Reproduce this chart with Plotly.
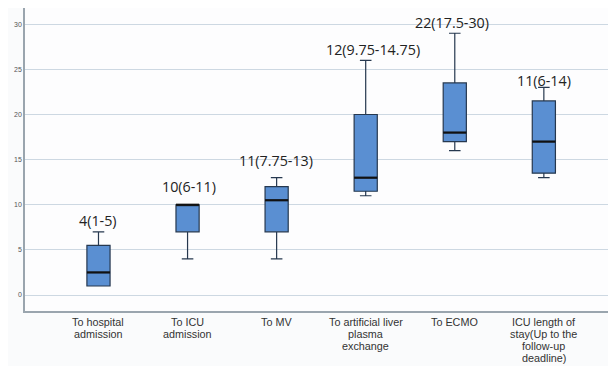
import plotly.graph_objects as go

categories = ["To hospital<br>admission", "To ICU<br>admission", "To MV",
              "To artificial liver<br>plasma<br>exchange", "To ECMO",
              "ICU length of<br>stay(Up to the<br>follow-up<br>deadline)"]
lower = [1, 4, 4, 11, 16, 13]
q1 = [1, 7, 7, 11.5, 17, 13.5]
median = [2.5, 10, 10.5, 13, 18, 17]
q3 = [5.5, 10, 12, 20, 23.5, 21.5]
upper = [7, 10, 13, 26, 29, 23]
labels = ["4(1-5)", "10(6-11)", "11(7.75-13)", "12(9.75-14.75)", "22(17.5-30)", "11(6-14)"]
label_y = [8.3, 12.0, 14.85, 27.2, 30.15, 23.8]
label_dx = [0, 1, -1, 7, -3, 0]
yticks = [0, 5, 10, 15, 20, 25, 30]

idx = list(range(len(categories)))
fig = go.Figure()
fig.add_trace(go.Box(
    x=idx, q1=q1, median=median, q3=q3, lowerfence=lower, upperfence=upper,
    width=0.26, whiskerwidth=0.5,
    fillcolor="#5a8fd2", line=dict(color="#26384f", width=1.2),
    showlegend=False, hoverinfo="skip",
))

shapes = []
for i in idx:
    shapes.append(dict(type="line", xref="x", yref="y", x0=i - 0.13, x1=i + 0.13,
                       y0=median[i], y1=median[i], line=dict(color="#111111", width=2.2)))

annotations = []
for i in idx:
    annotations.append(dict(x=i, y=label_y[i], xref="x", yref="y", text=labels[i],
                            showarrow=False, xshift=label_dx[i],
                            font=dict(family="Open Sans, sans-serif", size=14.3, color="#222")))
    # category label lines with tight line spacing
    for k, line in enumerate(categories[i].split("<br>")):
        annotations.append(dict(x=i, y=0, xref="x", yref="paper", yanchor="middle",
                                text=line, showarrow=False, yshift=-(10.7 + 12.1 * k),
                                font=dict(family="Liberation Sans, Arial", size=10.8, color="#333")))

# page body has an 8px default margin; size the figure to fill the rest
fig.update_layout(
    width=608, height=358,
    margin=dict(l=17, r=0, t=0, b=55),
    paper_bgcolor="#fafbfc", plot_bgcolor="#fdfdfe",
    shapes=shapes, annotations=annotations,
    xaxis=dict(range=[-0.825, 5.81], tickvals=idx, showticklabels=False,
               showgrid=False, zeroline=False, showline=True, linecolor="#9aa5ae",
               linewidth=1.5, ticks=""),
    yaxis=dict(range=[-1.77, 31.8], tickvals=yticks, showgrid=True, gridcolor="#cdd8e2",
               gridwidth=1, zeroline=False, showline=True, linecolor="#9aa5ae", linewidth=1.5,
               ticks="", tickfont=dict(family="Liberation Sans, Arial", size=7, color="#555")),
)
fig.write_html("out.html")
